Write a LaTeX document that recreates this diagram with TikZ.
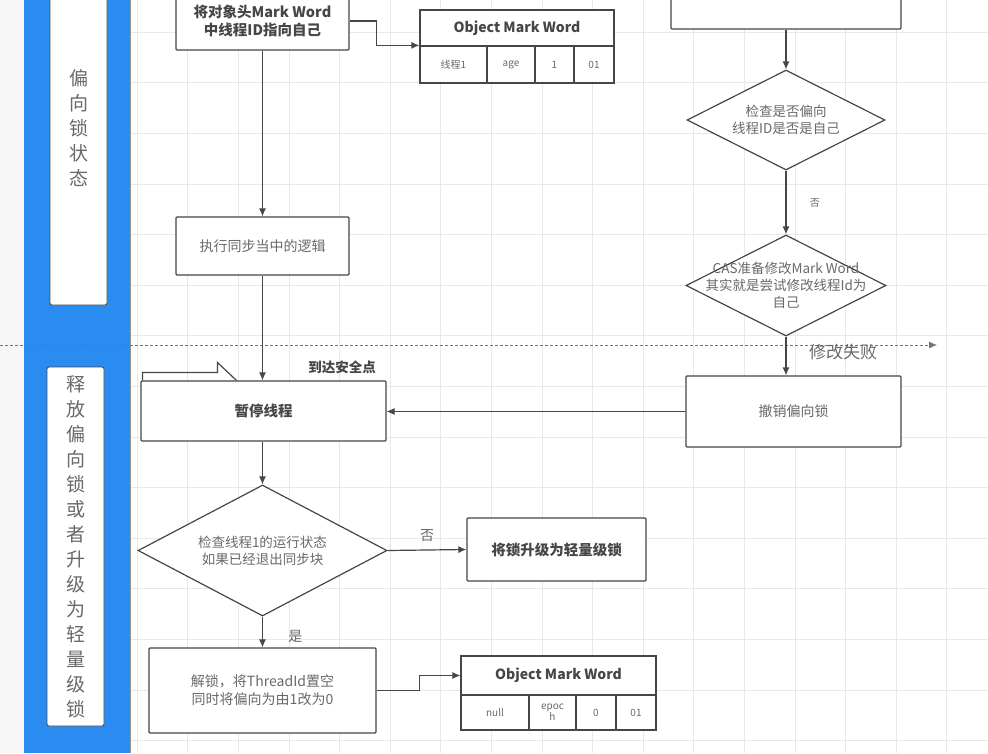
\documentclass[tikz,border=0pt]{standalone}
\usepackage{fontspec}
\setmainfont{Noto Sans CJK SC}
\usetikzlibrary{shapes, arrows.meta, calc}
\definecolor{lane}{RGB}{42,140,240}
\definecolor{ink}{RGB}{70,70,70}
\definecolor{txt}{RGB}{105,105,105}
\definecolor{gridc}{RGB}{232,232,232}
\tikzset{
  box/.style={draw=ink, line width=1.2pt, fill=white, rounded corners=1pt,
    inner sep=0pt, align=center, text=txt, font=\fontsize{14}{18}\selectfont},
  bbox/.style={box, text=ink, font=\fontsize{14.5}{18}\selectfont\bfseries},
  cond/.style={diamond, draw=ink, line width=1.2pt, fill=white, inner sep=-40pt,
    align=center, text=txt, font=\fontsize{13.5}{17}\selectfont},
  cell/.style={draw=ink, line width=1.2pt, fill=white, inner sep=0pt,
    align=center, text=txt, font=\fontsize{10}{11}\selectfont},
  hcell/.style={cell, text=ink, font=\fontsize{14}{16}\selectfont\bfseries},
  lanebox/.style={draw=ink, line width=0.8pt, fill=white, rounded corners=2pt,
    inner sep=0pt, align=center, text=txt, font=\fontsize{19}{25}\selectfont},
  flow/.style={->, draw=ink, line width=1.2pt},
  note/.style={text=txt, font=\fontsize{14}{16}\selectfont},
}

\begin{document}
\begin{tikzpicture}[x=1pt, y=-1pt, >={Latex[length=8pt, width=7pt]}]
\useasboundingbox (0,0) rectangle (988,753);
\clip (0,0) rectangle (988,753);

% background: grid and swimlanes
\fill[white] (0,0) rectangle (988,753);
\foreach \gx in {137,187.6,...,988} \draw[gridc] (\gx,0) -- (\gx,753);
\foreach \gy in {32,82.6,...,753} \draw[gridc] (130,\gy) -- (988,\gy);
\fill[gray!7] (0,0) rectangle (24,753);
\fill[lane] (24,0) rectangle (130,753);
\draw[ink!60] (130,0) -- (130,753);
\node[lanebox, minimum width=57, minimum height=354] at (78.5, 128) (lanebias)
    {偏\\向\\锁\\状\\态};
\node[lanebox, minimum width=57, minimum height=359] at (75.5, 546.5) (lanerelease)
    {释\\放\\偏\\向\\锁\\或\\者\\升\\级\\为\\轻\\量\\级\\锁};

% left column
\node[bbox, minimum width=173, minimum height=58] at (262.5, 21) (own)
    {将对象头Mark Word\\中线程ID指向自己};
\node[box, minimum width=173, minimum height=58] at (262.5, 246) (sync)
    {执行同步当中的逻辑};
\node[bbox, minimum width=245, minimum height=60] at (263.5, 411) (pause)
    {暂停线程};
\node[cond, minimum width=249, minimum height=131] at (262.5, 550.5) (alive)
    {检查线程1的运行状态\\如果已经退出同步块};
\node[bbox, minimum width=179, minimum height=63] at (556.5, 549.5) (upgrade)
    {将锁升级为轻量级锁};
\node[box, minimum width=227, minimum height=85] at (262.5, 690.5) (unlock)
    {解锁，将ThreadId置空\\同时将偏向为由1改为0};

% mark word tables
\node[hcell, minimum width=194, minimum height=36] at (517, 28) (mwa) {Object Mark Word};
\node[cell, minimum width=67, minimum height=37] at (453.5, 64.5) (mwa1) {线程1};
\node[cell, minimum width=48, minimum height=37] at (511, 64.5) (mwa2) {age};
\node[cell, minimum width=39, minimum height=37] at (554.5, 64.5) (mwa3) {1};
\node[cell, minimum width=40, minimum height=37] at (594, 64.5) (mwa4) {01};

\node[hcell, minimum width=195, minimum height=39] at (558.5, 675.5) (mwb) {Object Mark Word};
\node[cell, minimum width=68, minimum height=35] at (495, 712.5) (mwb1) {null};
\node[cell, minimum width=47, minimum height=35] at (552.5, 712.5) (mwb2) {epoc\\h};
\node[cell, minimum width=40, minimum height=35] at (596, 712.5) (mwb3) {0};
\node[cell, minimum width=40, minimum height=35] at (636, 712.5) (mwb4) {01};

% right column
\node[box, minimum width=230, minimum height=49] at (786, 4.5) (start) {};
\node[cond, minimum width=198, minimum height=100] at (786, 120) (isbias)
    {检查是否偏向\\线程ID是否是自己};
\node[cond, minimum width=200, minimum height=101] at (786, 285.5) (cas)
    {CAS准备修改Mark Word\\其实就是尝试修改线程Id为\\自己};
\node[box, minimum width=215, minimum height=71] at (793.5, 411.5) (revoke)
    {撤销偏向锁};

% lane separator
\coordinate (sepL) at (0, 345);
\coordinate (sepR) at (937, 345);
\draw[->, ink!75, line width=0.8pt, dash pattern=on 3pt off 2pt] (sepL) -- (sepR);

% flow
\path (own.south) edge[flow] (sync.north);
\path (sync.south) edge[flow] (sync.south |- pause.north);
\path (revoke.west) edge[flow] (revoke.west -| pause.east);
\path (pause.south -| alive.north) edge[flow] (alive.north);
\path (alive.east) edge[flow] node[note, above, yshift=4] {否} (upgrade.west);
\path (alive.south) edge[flow] node[note, right, xshift=22, yshift=-4] {是} (unlock.north);
\path (start.south) edge[flow] (isbias.north);
\path (isbias.south) edge[flow] node[note, right, xshift=20, font=\fontsize{10}{11}\selectfont] {否} (cas.north);
\path (cas.south) edge[flow] (cas.south |- revoke.north);
\draw[flow] (own.east) -- ++(27,0) |- (mwa1.north west);
\draw[flow] (unlock.east) -- ++(43,0) |- (mwb.west);

% safepoint tab on the pause box
\draw[ink, line width=1.2pt] ($(pause.north west)+(2,0)$) |- ++(75,-8) -- ++(0,-10) -- ++(19,18);
\node[text=ink, font=\fontsize{13.5}{15}\selectfont\bfseries] at (342, 367) (safe) {到达安全点};
\node[text=txt, font=\fontsize{17}{19}\selectfont] at (843, 352) (fail) {修改失败};
\end{tikzpicture}
\end{document}
